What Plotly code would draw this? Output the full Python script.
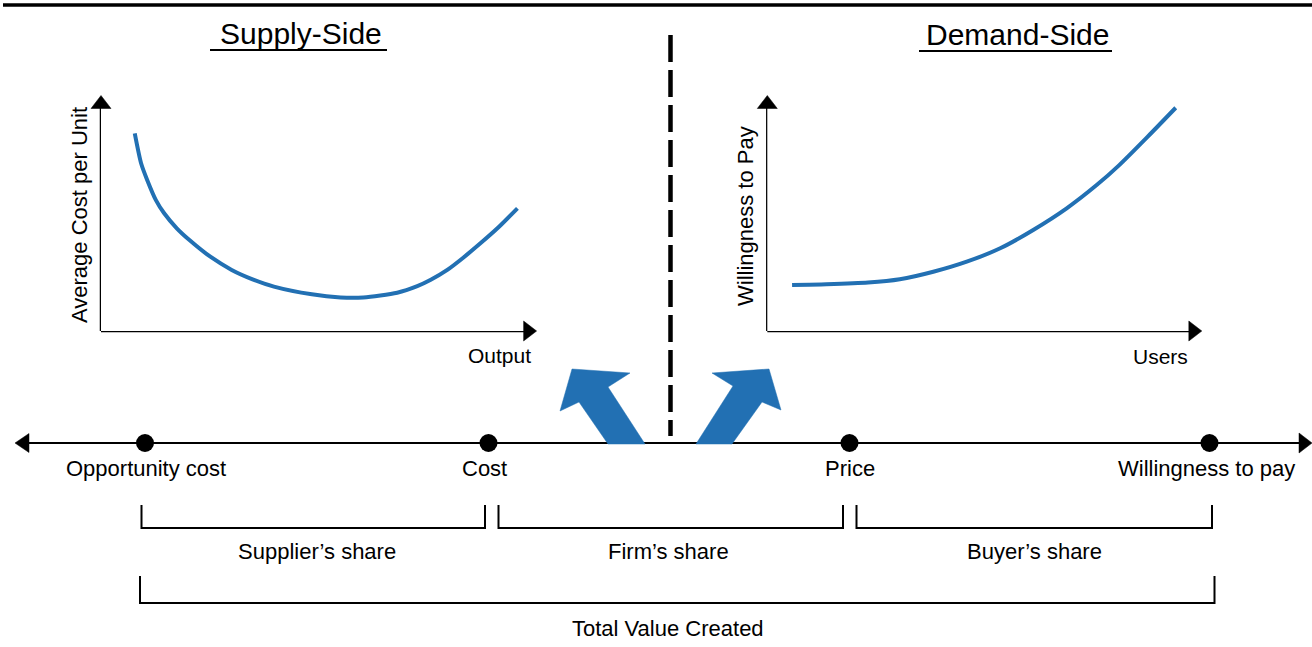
import plotly.graph_objects as go

# ---------------- data ----------------
# Supply-side inset: average cost per unit vs output (local units, 0-100 = axis length)
supply_output = [7.75, 9.2, 10.6, 12.6, 14.5, 17.4, 20.3, 25.1, 30.0, 34.8, 39.7, 48.4,
                 55.0, 60.2, 68.0, 72.6, 75.6, 79.5, 83.3, 87.1, 91.0, 95.6]
supply_cost = [84.1, 71.4, 64.3, 55.7, 50.1, 43.7, 38.7, 31.6, 26.0, 22.0, 18.9, 15.6,
               14.3, 14.3, 16.3, 19.1, 21.7, 26.0, 31.4, 37.3, 43.7, 52.2]

# Demand-side inset: willingness to pay vs users (local units)
demand_users = [5.7, 13.6, 23.2, 30.5, 38.2, 45.9, 53.6, 61.2, 68.9, 75.8, 81.0, 87.5, 94.0]
demand_wtp = [19.6, 19.9, 20.6, 22.0, 25.2, 29.5, 35.2, 43.0, 52.2, 62.1, 70.6, 82.6, 95.0]

# Value line
point_labels = ["Opportunity cost", "Cost", "Price", "Willingness to pay"]
point_values = [145, 488.5, 849.5, 1209.5]

share_labels = ["Supplier\u2019s share", "Firm\u2019s share", "Buyer\u2019s share"]
total_label = "Total Value Created"

supply_title = "Supply-Side"
demand_title = "Demand-Side"
supply_xlabel, supply_ylabel = "Output", "Average Cost per Unit"
demand_xlabel, demand_ylabel = "Users", "Willingness to Pay"

# ---------------- style ----------------
W, H = 1312, 647
BLUE = "#2270B3"
FONT = "Liberation Sans, Arial, sans-serif"
LINE_Y = 443

fig = go.Figure()

# inset curves on their own axes
fig.add_trace(go.Scatter(x=supply_output, y=supply_cost, mode="lines",
                         line=dict(color=BLUE, width=4, shape="spline", smoothing=0.7),
                         xaxis="x2", yaxis="y2", hoverinfo="skip", showlegend=False))
fig.add_trace(go.Scatter(x=demand_users, y=demand_wtp, mode="lines",
                         line=dict(color=BLUE, width=4, shape="spline", smoothing=0.7),
                         xaxis="x3", yaxis="y3", hoverinfo="skip", showlegend=False))

# dots on value line
fig.add_trace(go.Scatter(x=point_values, y=[LINE_Y] * len(point_values), mode="markers",
                         marker=dict(color="black", size=18),
                         xaxis="x", yaxis="y", hoverinfo="skip", showlegend=False))

shapes = []
def line(x0, y0, x1, y1, w=2, color="black", dash=None):
    d = dict(type="line", xref="x", yref="y", x0=x0, y0=y0, x1=x1, y1=y1,
             line=dict(color=color, width=w), layer="below")
    if dash:
        d["line"]["dash"] = dash
    shapes.append(d)

def poly(pts, color):
    p = "M " + " L ".join(f"{x},{y}" for x, y in pts) + " Z"
    shapes.append(dict(type="path", xref="x", yref="y", path=p,
                       fillcolor=color, line=dict(color=color, width=0.5)))

# top rule
line(3, 5, W, 5, w=3.5)
# title underlines
line(210, 50, 387, 50, w=2)
line(919, 51, 1112, 51, w=2)
# dashed divider
line(670.5, 35, 670.5, 436, w=4.5, dash="27px,8px")

# inset axes with arrowheads
for ax_x, tip_x in [(101, 536.6), (767.3, 1201.8)]:
    line(ax_x, 331, ax_x, 106, w=2.5)
    line(ax_x, 331, tip_x - 10, 331, w=2.5)
    poly([(ax_x, 95.5), (ax_x - 10, 108.5), (ax_x + 10, 108.5)], "black")
    poly([(tip_x, 331), (tip_x - 13, 321), (tip_x - 13, 341)], "black")

# value line with arrows both ends
line(25, LINE_Y, 1302, LINE_Y, w=2)
poly([(15, LINE_Y), (29, LINE_Y - 9.5), (29, LINE_Y + 9.5)], "black")
poly([(1312, LINE_Y), (1299, LINE_Y - 10), (1299, LINE_Y + 10)], "black")

# blue arrows
poly([(608, 444), (579, 402), (560, 411), (572, 369), (630, 373), (608, 387), (645, 444)], BLUE)
poly([(696, 444), (733, 386), (712, 373), (769, 369), (781, 410), (762, 402), (732, 444)], BLUE)

# share brackets
def bracket(x0, x1, ytop, ybot):
    p = f"M {x0},{ytop} L {x0},{ybot} L {x1},{ybot} L {x1},{ytop}"
    shapes.append(dict(type="path", xref="x", yref="y", path=p,
                       line=dict(color="black", width=2)))

seg_edges = [(point_values[0] - 3.5, point_values[1] - 3.5),
             (point_values[1] + 10, point_values[2] - 6.5),
             (point_values[2] + 7, point_values[3] + 2.5)]
for a, b in seg_edges:
    bracket(a, b, 505, 528)
bracket(point_values[0] - 5, point_values[3] + 5, 576, 603)

annotations = []
def text(x, y, s, size=22, angle=0, xanchor="center"):
    annotations.append(dict(x=x, y=y, xref="x", yref="y", text=s, showarrow=False,
                            textangle=angle, xanchor=xanchor, yanchor="middle",
                            font=dict(family=FONT, size=size, color="black")))

text(301, 33, supply_title, size=30)
text(1017, 34, demand_title, size=30)
text(79, 215, supply_ylabel, angle=-90, size=22)
text(499, 355, supply_xlabel, size=21)
text(745, 216, demand_ylabel, angle=-90, size=22)
text(1160, 356, demand_xlabel, size=21)

label_offsets = [1, -4, 0, -3]
for lbl, v, o in zip(point_labels, point_values, label_offsets):
    text(v + o, 468, lbl)

share_offsets = [4, -2, 0]
for lbl, (a, b), o in zip(share_labels, seg_edges, share_offsets):
    text((a + b) / 2 + o, 551, lbl)
text((point_values[0] + point_values[3]) / 2 - 9, 628, total_label)

hidden = dict(visible=False, showgrid=False, zeroline=False, fixedrange=True)
fig.update_layout(
    width=W, height=H, margin=dict(l=0, r=0, t=0, b=0),
    paper_bgcolor="white", plot_bgcolor="white",
    xaxis=dict(range=[0, W], domain=[0, 1], **hidden),
    yaxis=dict(range=[H, 0], domain=[0, 1], **hidden),
    xaxis2=dict(range=[0, 100], domain=[101 / W, 536.6 / W], anchor="y2", **hidden),
    yaxis2=dict(range=[0, 100], domain=[(H - 331) / H, (H - 96) / H], anchor="x2", **hidden),
    xaxis3=dict(range=[0, 100], domain=[767.3 / W, 1201.8 / W], anchor="y3", **hidden),
    yaxis3=dict(range=[0, 100], domain=[(H - 331) / H, (H - 96) / H], anchor="x3", **hidden),
    shapes=shapes, annotations=annotations, showlegend=False,
)

fig.write_html("out.html", config={"displayModeBar": False},
               post_script="document.body.style.margin='0';document.body.style.padding='0';document.body.style.overflow='hidden';")
